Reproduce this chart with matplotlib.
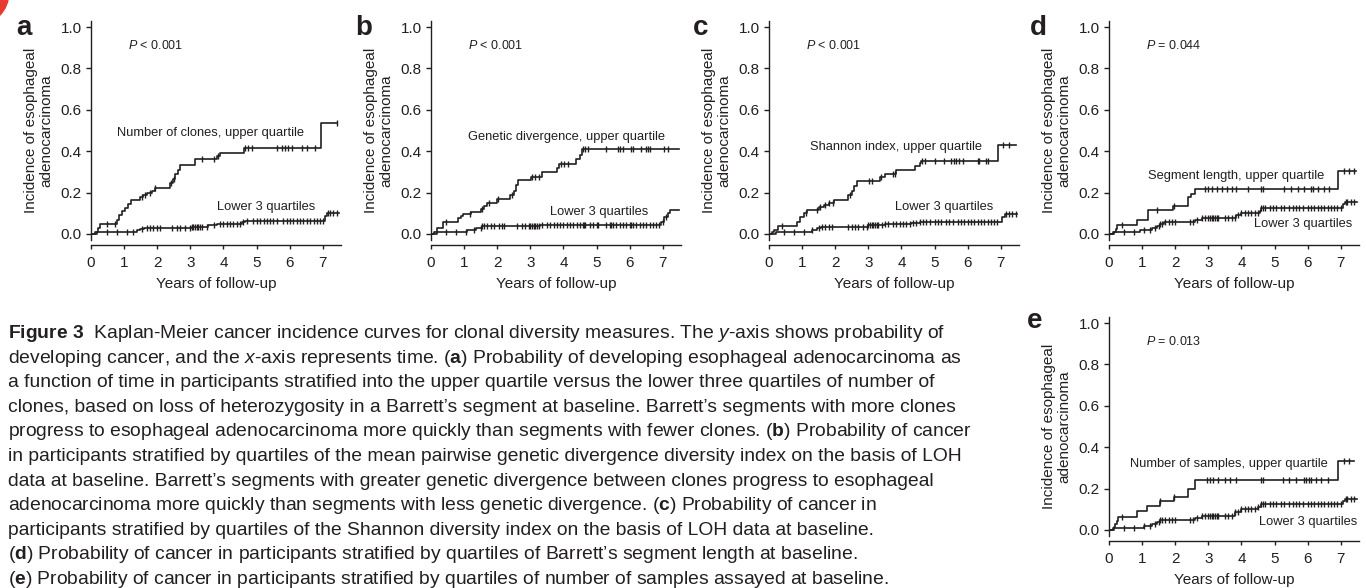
import numpy as np
import matplotlib
matplotlib.use("Agg")
import matplotlib.pyplot as plt
from matplotlib.patches import Ellipse

plt.rcParams['font.family'] = ['Liberation Sans', 'DejaVu Sans']
plt.rcParams['mathtext.fontset'] = 'custom'
plt.rcParams['mathtext.rm'] = 'Liberation Sans'
plt.rcParams['mathtext.it'] = 'Liberation Sans:italic'
plt.rcParams['mathtext.bf'] = 'Liberation Sans:bold'

# ---- data (years, cumulative incidence) ----
# panel a: number of clones
a_up_t = [0, 0.12, 0.2, 0.27, 0.78, 0.85, 0.93, 1.03, 1.12, 1.2, 1.48, 1.58, 1.68, 1.83, 1.93,
          2.39, 2.47, 2.55, 2.62, 2.69, 3.14, 3.8, 3.9, 4.63, 6.95]
a_up_y = [0, 0.01, 0.03, 0.05, 0.07, 0.09, 0.11, 0.125, 0.145, 0.165, 0.18, 0.19, 0.2, 0.21, 0.22,
          0.245, 0.265, 0.29, 0.31, 0.335, 0.36, 0.375, 0.39, 0.415, 0.535]
a_up_end = 7.42
a_up_c = [0.47, 0.73, 1.53, 1.63, 1.78, 1.93, 2.42, 2.5, 3.34, 3.7, 3.85, 4.65, 4.75, 4.85, 5.61,
          5.76, 5.86, 5.96, 6.06, 6.36, 6.52, 6.77, 7.42]
a_lo_t = [0, 0.17, 1.38, 1.48, 1.6, 3.04, 3.54, 3.8, 4.55, 4.65, 7.07, 7.12]
a_lo_y = [0, 0.01, 0.02, 0.025, 0.03, 0.035, 0.045, 0.05, 0.06, 0.065, 0.085, 0.1]
a_lo_end = 7.5
a_lo_c = [0.47, 0.78, 1.08, 1.28, 1.53, 1.68, 1.78, 1.88, 1.98, 2.08, 2.44, 2.59, 2.69, 2.84, 2.99,
          3.04, 3.09, 3.14, 3.19, 3.24, 3.29, 3.34, 3.49, 3.7, 3.9, 4.0, 4.1, 4.2, 4.3, 4.4, 4.5,
          4.6, 4.7, 4.9, 5.0, 5.11, 5.21, 5.31, 5.41, 5.51, 5.61, 5.81, 5.91, 6.01, 6.11, 6.21,
          6.31, 6.41, 6.52, 6.62, 6.72, 6.82, 6.92, 7.02, 7.17, 7.22, 7.32, 7.42]

# panel b: genetic divergence
b_up_t = [0, 0.1, 0.17, 0.35, 0.82, 0.9, 0.97, 1.2, 1.5, 1.6, 1.7, 2.0, 2.4, 2.5, 2.56, 2.62,
          3.02, 3.35, 3.82, 3.88, 4.38, 4.5, 4.57]
b_up_y = [0, 0.01, 0.03, 0.06, 0.075, 0.085, 0.095, 0.105, 0.12, 0.135, 0.15, 0.17, 0.19, 0.21,
          0.235, 0.26, 0.275, 0.3, 0.32, 0.34, 0.36, 0.38, 0.41]
b_up_end = 7.5
b_up_c = [0.45, 1.18, 1.55, 1.75, 2.02, 2.45, 3.05, 3.15, 3.25, 3.92, 4.02, 4.15, 4.6, 4.65, 4.75,
          5.3, 5.65, 5.72, 5.8, 6.05, 6.1, 6.35, 6.5, 6.55, 6.62, 7.05, 7.15]
b_lo_t = [0, 0.18, 1.1, 1.35, 1.55, 3.3, 6.95, 7.05, 7.15, 7.22]
b_lo_y = [0, 0.01, 0.02, 0.03, 0.04, 0.043, 0.06, 0.08, 0.1, 0.115]
b_lo_end = 7.5
b_lo_c = [0.45, 0.75, 1.05, 1.3, 1.5, 1.55, 1.6, 1.7, 1.8, 1.9, 2.05, 2.15, 2.2, 2.6, 2.75, 2.85,
          2.95, 3.0, 3.05, 3.1, 3.15, 3.2, 3.25, 3.35, 3.5, 3.6, 3.7, 3.8, 3.9, 4.0, 4.1, 4.2,
          4.3, 4.4, 4.5, 4.6, 4.62, 4.65, 4.8, 4.9, 5.0, 5.05, 5.3, 5.4, 5.45, 5.5, 5.6, 5.7,
          5.8, 5.9, 6.0, 6.05, 6.1, 6.2, 6.3, 6.4, 6.5, 6.6, 6.7, 6.8, 6.9, 7.0, 7.1]

# panel c: Shannon index
c_up_t = [0, 0.1, 0.15, 0.28, 0.85, 0.95, 1.05, 1.15, 1.5, 1.65, 1.8, 1.95, 2.4, 2.5, 2.58, 2.65,
          3.35, 3.5, 3.83, 4.4, 4.55, 4.6, 6.92]
c_up_y = [0, 0.01, 0.02, 0.04, 0.06, 0.08, 0.1, 0.115, 0.13, 0.14, 0.15, 0.165, 0.19, 0.21, 0.23,
          0.255, 0.275, 0.29, 0.31, 0.33, 0.345, 0.355, 0.43]
c_up_end = 7.45
c_up_c = [0.4, 1.12, 1.45, 1.55, 1.68, 1.82, 1.92, 2.45, 3.02, 3.1, 3.38, 3.75, 3.8, 4.62, 4.7,
          5.0, 5.3, 5.5, 5.6, 5.65, 5.75, 5.85, 6.3, 6.35, 6.55, 6.6, 7.08, 7.25]
c_lo_t = [0, 0.2, 1.3, 1.45, 1.58, 2.98, 3.5, 4.3, 4.55, 7.03, 7.12]
c_lo_y = [0, 0.01, 0.02, 0.03, 0.035, 0.045, 0.05, 0.055, 0.06, 0.08, 0.095]
c_lo_end = 7.5
c_lo_c = [0.45, 0.75, 1.05, 1.3, 1.5, 1.6, 1.7, 1.8, 1.9, 2.4, 2.5, 2.6, 2.7, 2.85, 2.95, 3.0,
          3.05, 3.1, 3.15, 3.2, 3.25, 3.3, 3.4, 3.5, 3.6, 3.75, 3.85, 3.95, 4.05, 4.15, 4.25,
          4.35, 4.45, 4.55, 4.65, 4.75, 4.85, 5.0, 5.1, 5.2, 5.35, 5.45, 5.55, 5.7, 5.8, 5.9,
          6.0, 6.1, 6.2, 6.3, 6.4, 6.5, 6.6, 6.7, 6.8, 6.9, 7.15, 7.25, 7.35, 7.45]

# panel d: segment length
d_up_t = [0, 0.15, 0.2, 0.25, 0.85, 1.17, 1.93, 2.38, 2.48, 2.6, 6.93]
d_up_y = [0, 0.01, 0.025, 0.045, 0.07, 0.115, 0.135, 0.18, 0.195, 0.215, 0.305]
d_up_end = 7.45
d_up_c = [0.4, 1.45, 1.95, 2.9, 3.0, 3.1, 3.25, 3.4, 3.55, 3.7, 3.85, 4.2, 4.6, 4.65, 5.3, 5.5,
          5.7, 5.9, 6.1, 6.15, 6.3, 6.5, 6.65, 7.1, 7.25, 7.4]
d_lo_t = [0, 0.12, 0.95, 1.3, 1.45, 1.55, 1.65, 2.6, 2.8, 3.85, 4.0, 4.55, 4.6, 7.07, 7.12]
d_lo_y = [0, 0.01, 0.02, 0.03, 0.04, 0.05, 0.06, 0.07, 0.075, 0.09, 0.1, 0.11, 0.125, 0.145, 0.155]
d_lo_end = 7.5
d_lo_c = [0.45, 0.75, 1.05, 1.25, 1.4, 1.5, 1.55, 1.6, 1.7, 1.8, 1.9, 2.0, 2.45, 2.55, 2.65,
          2.8, 2.9, 3.0, 3.05, 3.1, 3.15, 3.2, 3.25, 3.3, 3.5, 3.6, 3.7, 3.8, 3.9, 4.0, 4.1, 4.2,
          4.3, 4.4, 4.5, 4.6, 4.65, 4.7, 4.85, 4.95, 5.05, 5.2, 5.3, 5.45, 5.55, 5.65, 5.75,
          5.85, 6.0, 6.1, 6.2, 6.3, 6.4, 6.5, 6.6, 6.7, 6.8, 6.9, 7.0, 7.15, 7.2, 7.3, 7.4]

# panel e: number of samples
e_up_t = [0, 0.15, 0.19, 0.23, 0.28, 0.85, 1.15, 1.55, 1.95, 2.38, 2.6, 6.93]
e_up_y = [0, 0.015, 0.03, 0.045, 0.065, 0.09, 0.115, 0.14, 0.16, 0.2, 0.24, 0.335]
e_up_end = 7.4
e_up_c = [0.4, 1.55, 1.95, 2.95, 3.05, 3.15, 3.3, 3.5, 3.65, 3.85, 4.6, 4.65, 5.25, 5.45, 5.65,
          5.9, 5.95, 6.05, 6.1, 6.25, 6.4, 6.6, 7.1, 7.25]
e_lo_t = [0, 0.12, 1.05, 1.3, 1.45, 1.55, 2.6, 2.8, 3.8, 4.0, 4.5, 4.6, 7.07, 7.12]
e_lo_y = [0, 0.01, 0.02, 0.03, 0.04, 0.05, 0.06, 0.07, 0.085, 0.1, 0.11, 0.125, 0.14, 0.15]
e_lo_end = 7.5
e_lo_c = [0.45, 0.75, 1.05, 1.25, 1.4, 1.5, 1.55, 1.6, 1.7, 1.8, 1.9, 2.0, 2.45, 2.55, 2.65,
          2.8, 2.9, 3.0, 3.05, 3.1, 3.15, 3.2, 3.25, 3.3, 3.5, 3.6, 3.7, 3.8, 3.9, 4.0, 4.1, 4.2,
          4.3, 4.4, 4.5, 4.6, 4.65, 4.7, 4.85, 4.95, 5.05, 5.2, 5.3, 5.45, 5.55, 5.65, 5.75,
          5.85, 6.0, 6.1, 6.2, 6.3, 6.4, 6.5, 6.6, 6.7, 6.8, 6.9, 7.0, 7.15, 7.2, 7.3, 7.4]

panel_letters = ['a', 'b', 'c', 'd', 'e']
p_values = ['$P$ < 0.001', '$P$ < 0.001', '$P$ < 0.001', '$P$ = 0.044', '$P$ = 0.013']
upper_labels = ['Number of clones, upper quartile', 'Genetic divergence, upper quartile',
                'Shannon index, upper quartile', 'Segment length, upper quartile',
                'Number of samples, upper quartile']
lower_label = 'Lower 3 quartiles'
x_ticks = [0, 1, 2, 3, 4, 5, 6, 7]
y_ticks = [0.0, 0.2, 0.4, 0.6, 0.8, 1.0]

caption_lines = [
    "$\\mathbf{Figure\\ 3}$  Kaplan-Meier cancer incidence curves for clonal diversity measures. The $y$-axis shows probability of",
    "developing cancer, and the $x$-axis represents time. ($\\mathbf{a}$) Probability of developing esophageal adenocarcinoma as",
    "a function of time in participants stratified into the upper quartile versus the lower three quartiles of number of",
    "clones, based on loss of heterozygosity in a Barrett\u2019s segment at baseline. Barrett\u2019s segments with more clones",
    "progress to esophageal adenocarcinoma more quickly than segments with fewer clones. ($\\mathbf{b}$) Probability of cancer",
    "in participants stratified by quartiles of the mean pairwise genetic divergence diversity index on the basis of LOH",
    "data at baseline. Barrett\u2019s segments with greater genetic divergence between clones progress to esophageal",
    "adenocarcinoma more quickly than segments with less genetic divergence. ($\\mathbf{c}$) Probability of cancer in",
    "participants stratified by quartiles of the Shannon diversity index on the basis of LOH data at baseline.",
    "($\\mathbf{d}$) Probability of cancer in participants stratified by quartiles of Barrett\u2019s segment length at baseline.",
    "($\\mathbf{e}$) Probability of cancer in participants stratified by quartiles of number of samples assayed at baseline.",
]

panels = [
    (a_up_t, a_up_y, a_up_end, a_up_c, a_lo_t, a_lo_y, a_lo_end, a_lo_c),
    (b_up_t, b_up_y, b_up_end, b_up_c, b_lo_t, b_lo_y, b_lo_end, b_lo_c),
    (c_up_t, c_up_y, c_up_end, c_up_c, c_lo_t, c_lo_y, c_lo_end, c_lo_c),
    (d_up_t, d_up_y, d_up_end, d_up_c, d_lo_t, d_lo_y, d_lo_end, d_lo_c),
    (e_up_t, e_up_y, e_up_end, e_up_c, e_lo_t, e_lo_y, e_lo_end, e_lo_c),
]

# text placement (data coords) for each panel
upper_pos = [(0.78, 0.49), (1.13, 0.47), (1.24, 0.42), (1.19, 0.28), (0.64, 0.32)]
lower_pos = [(3.8, 0.13), (3.59, 0.108), (3.8, 0.13), (4.37, 0.048), (4.53, 0.04)]

# ---- layout (pixels in a 1366 x 588 canvas) ----
W, H = 1366, 588
ink = '#231f20'
axes_left_px = [91, 431, 769, 1109, 1109]
axes_bottom_px = [240.2, 240.2, 240.2, 240.2, 536.2]
axes_w_px, axes_h_px = 250, 219.4
letter_px = [(16, 35), (355, 35), (693, 35), (1030, 35), (1027, 328)]

fig = plt.figure(figsize=(W / 100, H / 100), dpi=100)
fig.patch.set_facecolor('white')

# red corner mark
fig.patches.append(Ellipse((-23 / W, 1 + 7 / H), 2 * 31.8 / W, 2 * 31.8 / H,
                           transform=fig.transFigure, color='#e63b2e', zorder=0))


def km(ax, t, y, end, cens):
    t = np.asarray(t)
    y = np.asarray(y)
    ax.step(np.append(t, end), np.append(y, y[-1]), where='post', color=ink, lw=1.2)
    idx = np.searchsorted(t, cens, side='right') - 1
    ax.plot(cens, y[idx], ls='none', marker='|', ms=5, mew=1.0, color=ink)


for i, (ut, uy, ue, uc, lt, ly, le, lc) in enumerate(panels):
    ax = fig.add_axes([axes_left_px[i] / W, 1 - axes_bottom_px[i] / H,
                       axes_w_px / W, axes_h_px / H])
    km(ax, ut, uy, ue, uc)
    km(ax, lt, ly, le, lc)
    ax.set_xlim(0, 7.55)
    ax.set_ylim(-0.03, 1.03)
    ax.set_xticks(x_ticks)
    ax.set_yticks(y_ticks)
    ax.set_yticklabels([f'{v:.1f}' for v in y_ticks])
    for s in ['top', 'right']:
        ax.spines[s].set_visible(False)
    for s in ['left', 'bottom']:
        ax.spines[s].set_color(ink)
        ax.spines[s].set_linewidth(1.0)
    ax.spines['bottom'].set_position(('outward', 3.5))
    ax.tick_params(axis='both', colors=ink, labelsize=11, width=1.0)
    ax.tick_params(axis='y', length=3.6, pad=3)
    ax.tick_params(axis='x', length=3, pad=5)
    ax.set_xlabel('Years of follow-up', fontsize=11, color=ink, labelpad=5)
    ax.set_ylabel('Incidence of esophageal\nadenocarcinoma', fontsize=11, color=ink,
                  labelpad=5, linespacing=1.2)
    ax.text(1.13, 0.91, p_values[i], fontsize=9, color=ink, va='center')
    ax.text(upper_pos[i][0], upper_pos[i][1], upper_labels[i], fontsize=9.3, color=ink,
            va='center')
    ax.text(lower_pos[i][0], lower_pos[i][1], lower_label, fontsize=9.3, color=ink,
            va='center')
    fig.text(letter_px[i][0] / W, 1 - letter_px[i][1] / H, panel_letters[i],
             fontsize=20, fontweight='bold', color=ink, ha='left', va='baseline')

# caption, one text per line
cap_texts = []
for k, line in enumerate(caption_lines):
    base = 338 + 24.6 * k
    cap_texts.append(fig.text(8 / W, 1 - base / H, line, fontsize=12, color=ink,
                              ha='left', va='baseline'))

# fit caption size so the first line ends where the reference does
fig.canvas.draw()
r = fig.canvas.get_renderer()
w0 = cap_texts[0].get_window_extent(r).width
scale = (943 - 8) / w0
for t in cap_texts:
    t.set_fontsize(12 * scale)

fig.savefig('out.png', dpi=100, facecolor='white')
